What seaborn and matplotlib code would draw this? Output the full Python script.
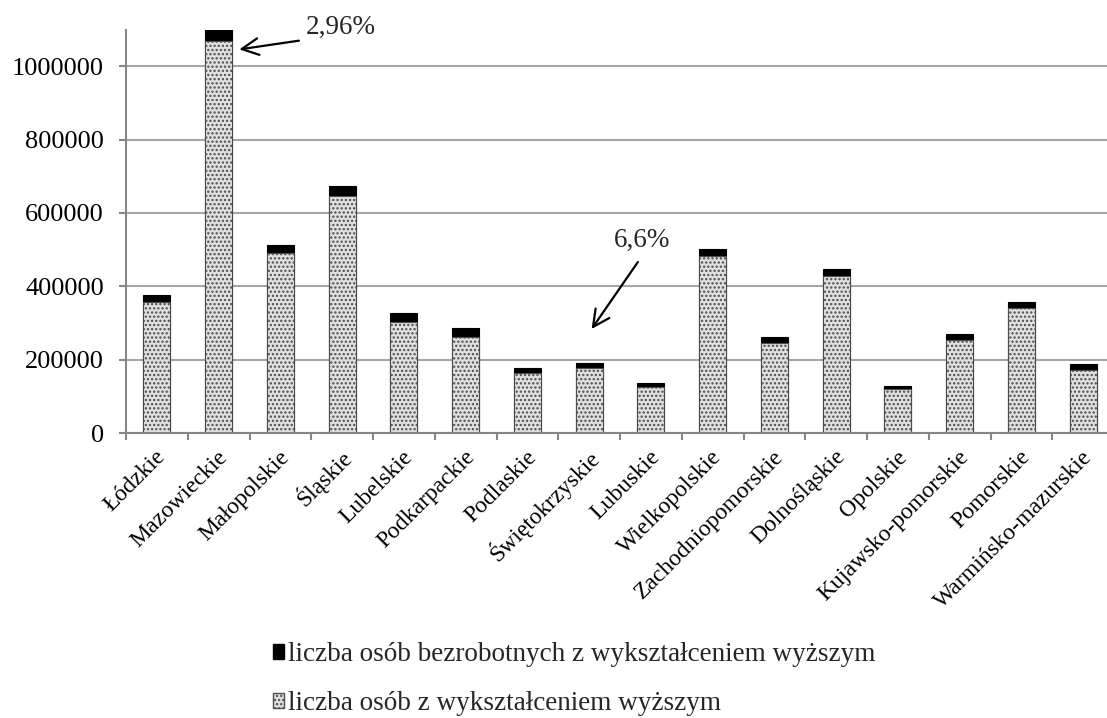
import matplotlib
matplotlib.use("Agg")
import matplotlib.pyplot as plt
import matplotlib.transforms as mtransforms
import seaborn as sns
import pandas as pd
from matplotlib.patches import Patch

regions = ["Łódzkie", "Mazowieckie", "Małopolskie", "Śląskie", "Lubelskie",
           "Podkarpackie", "Podlaskie", "Świętokrzyskie", "Lubuskie",
           "Wielkopolskie", "Zachodniopomorskie", "Dolnośląskie", "Opolskie",
           "Kujawsko-pomorskie", "Pomorskie", "Warmińsko-mazurskie"]
higher_edu = [358000, 1070000, 490000, 646000, 303000, 262000, 164000, 178000,
              126000, 483000, 246000, 428000, 120000, 253000, 341000, 173000]
unemployed = [18000, 32000, 24000, 27000, 23000, 23000, 13000, 12000,
              9000, 20000, 15000, 18000, 8000, 16000, 15000, 14000]
yticks = [0, 200000, 400000, 600000, 800000, 1000000]
label_unemp = "liczba osób bezrobotnych z wykształceniem wyższym"
label_edu = "liczba osób z wykształceniem wyższym"

sns.set_theme(style="white")
plt.rcParams['font.family'] = ['Liberation Serif', 'DejaVu Serif']
plt.rcParams['hatch.linewidth'] = 1.1
plt.rcParams['hatch.color'] = '#4d4d4d'

df = pd.DataFrame({"region": regions, "edu": higher_edu, "unemp": unemployed})
df["total"] = df["edu"] + df["unemp"]

fig = plt.figure(figsize=(11.07, 7.18), dpi=100)
ax = fig.add_axes([126/1107, 1-433/718, 988/1107, (433-29.6)/718])

sns.barplot(data=df, x="region", y="total", color="black", width=0.44,
            edgecolor="black", linewidth=0.8, saturation=1, ax=ax, zorder=3)
sns.barplot(data=df, x="region", y="edu", color="#e0e0e0", width=0.44,
            edgecolor="#4d4d4d", linewidth=0.8, hatch="....", saturation=1,
            ax=ax, zorder=4)

ax.set_ylim(0, 1100000)
ax.set_xlim(-0.5, len(regions) - 0.5)
ax.set_yticks(yticks)
ax.set_yticklabels([str(v) for v in yticks], fontsize=19, color='black')
ax.yaxis.grid(True, color='#a6a6a6', linewidth=1.5, zorder=0)
ax.set_axisbelow(True)
ax.set_xlabel("")
ax.set_ylabel("")

for s in ["top", "right"]:
    ax.spines[s].set_visible(False)
for s in ["left", "bottom"]:
    ax.spines[s].set_color('#868686')
    ax.spines[s].set_linewidth(1.5)
    ax.spines[s].set_zorder(5)

ax.tick_params(axis='y', which='major', left=True, length=5, width=1.5,
               color='#868686', pad=11)
ax.set_xticks(range(len(regions)))
ax.set_xticklabels(regions, rotation=45, ha='right', va='center',
                   rotation_mode='anchor', fontsize=17, color='black')
ax.tick_params(axis='x', which='major', length=0, pad=15)
offset = mtransforms.ScaledTranslation(6/100, 0, fig.dpi_scale_trans)
for lbl in ax.get_xticklabels():
    lbl.set_transform(lbl.get_transform() + offset)
ax.set_xticks([i - 0.5 for i in range(len(regions) + 1)], minor=True)
ax.tick_params(axis='x', which='minor', bottom=True, length=5, width=1.5,
               color='#868686')

arrow = dict(arrowstyle='->', color='black', lw=1.6, mutation_scale=30,
             shrinkA=0, shrinkB=0)
ax.annotate("", xy=(1.335, 1046000), xytext=(2.30, 1069800),
            annotation_clip=False, arrowprops=arrow)
ax.text(2.98, 1107000, "2,96%", fontsize=19.5, ha='center', va='center',
        clip_on=False)
ax.annotate("", xy=(7.04, 283600), xytext=(7.79, 466300),
            annotation_clip=False, arrowprops=arrow)
ax.text(7.86, 526300, "6,6%", fontsize=19.5, ha='center', va='center')

handles = [Patch(facecolor='black', edgecolor='black', label=label_unemp),
           Patch(facecolor='#e0e0e0', edgecolor='#4d4d4d', hatch='....',
                 label=label_edu)]
fig.legend(handles=handles, loc='upper left',
           bbox_to_anchor=(273/1107, 1-642/718), frameon=False,
           fontsize=19.5, handlelength=0.42, handleheight=0.5,
           handletextpad=0.12, labelspacing=0.9, borderpad=0,
           borderaxespad=0)

fig.savefig("out.png", dpi=100)
